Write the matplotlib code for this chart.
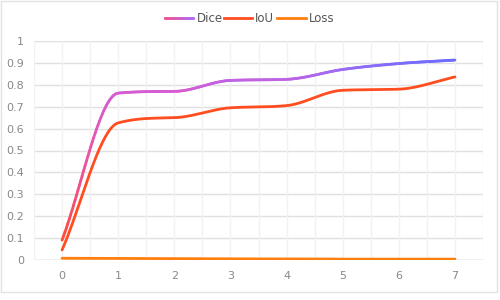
import numpy as np
import matplotlib
matplotlib.use('Agg')
import matplotlib.pyplot as plt
from matplotlib.collections import LineCollection
from matplotlib.colors import LinearSegmentedColormap
from matplotlib.patches import Rectangle
from matplotlib.lines import Line2D

### DATA ###
epochs = [0, 1, 2, 3, 4, 5, 6, 7]
dice = [0.091, 0.762, 0.77, 0.82, 0.825, 0.87, 0.897, 0.913]
iou = [0.046, 0.626, 0.65, 0.695, 0.705, 0.775, 0.78, 0.836]
loss = [0.008, 0.007, 0.006, 0.005, 0.005, 0.004, 0.004, 0.004]
y_ticks = [0, 0.1, 0.2, 0.3, 0.4, 0.5, 0.6, 0.7, 0.8, 0.9, 1]
y_tick_labels = ['0', '0.1', '0.2', '0.3', '0.4', '0.5', '0.6', '0.7', '0.8', '0.9', '1']
series_names = ['Dice', 'IoU', 'Loss']

IOU_COLOR = '#ff4d1f'
LOSS_COLOR = '#ff7f0e'
dice_cmap = LinearSegmentedColormap.from_list('dice', [
    (0.0, '#ff4a35'), (0.3, '#f0508a'), (0.6, '#e457b8'), (0.83, '#d55cd2'),
    (0.89, '#c062e2'), (0.95, '#9b6cf5'), (1.0, '#6e6cff')])


def monotone_path(xs, ys, n=40):
    # monotone cubic (Fritsch-Carlson) drawing of the line
    x = np.array(xs, float)
    y = np.array(ys, float)
    m = len(x)
    d = np.diff(y) / np.diff(x)
    mk = np.zeros(m)
    mk[0] = d[0]
    mk[-1] = d[-1]
    for i in range(1, m - 1):
        mk[i] = 0 if np.sign(d[i - 1]) != np.sign(d[i]) else (d[i - 1] + d[i]) / 2
    for i in range(m - 1):
        if abs(d[i]) < 1e-12:
            mk[i] = mk[i + 1] = 0
            continue
        a = mk[i] / d[i]
        b = mk[i + 1] / d[i]
        sq = a * a + b * b
        if sq <= 9:
            continue
        tau = 3 / np.sqrt(sq)
        mk[i] = a * tau * d[i]
        mk[i + 1] = b * tau * d[i]
    out_x, out_y = [], []
    t = np.linspace(0, 1, n)
    h00 = 2 * t ** 3 - 3 * t ** 2 + 1
    h10 = t ** 3 - 2 * t ** 2 + t
    h01 = -2 * t ** 3 + 3 * t ** 2
    h11 = t ** 3 - t ** 2
    for i in range(m - 1):
        h = x[i + 1] - x[i]
        out_x.extend(x[i] + t * h)
        out_y.extend(h00 * y[i] + h10 * h * mk[i] + h01 * y[i + 1] + h11 * h * mk[i + 1])
    return np.array(out_x), np.array(out_y)


fig = plt.figure(figsize=(5, 3), dpi=100)
fig.patch.set_facecolor('white')
fig.patches.append(Rectangle((1 / 500, 8 / 300), 496 / 500, 291 / 300,
                             transform=fig.transFigure, fill=False,
                             edgecolor='#e2e2e2', linewidth=1))

ax = fig.add_axes([34 / 500, 40 / 300, 449 / 500, 219 / 300])
ax.set_xlim(-0.5, 7.5)
ax.set_ylim(0, 1)

# grid
for yv in y_ticks:
    ax.axhline(yv, color='#e0e0e0', linewidth=1, zorder=0)
for xv in np.arange(-0.5, 7.51, 0.5):
    ax.axvline(xv, color='#f2f2f2', linewidth=1, zorder=0)
ax.axhline(0, color='#d4d4d4', linewidth=1, zorder=1)

for s in ax.spines.values():
    s.set_visible(False)
ax.set_yticks(y_ticks)
ax.set_yticklabels(y_tick_labels)
ax.set_xticks(epochs)
ax.tick_params(length=0, colors='#888888', labelsize=8)
ax.tick_params(axis='y', pad=7)
ax.tick_params(axis='x', pad=8)

# Dice with vertical gradient
dx, dy = monotone_path(epochs, dice)
pts = np.column_stack([dx, dy]).reshape(-1, 1, 2)
segs = np.concatenate([pts[:-1], pts[1:]], axis=1)
mid = (dy[:-1] + dy[1:]) / 2
lc = LineCollection(segs, cmap=dice_cmap, linewidth=2, capstyle='round', zorder=3)
lc.set_array((mid - min(dice)) / (max(dice) - min(dice)))
lc.set_clim(0, 1)
ax.add_collection(lc)

ix, iy = monotone_path(epochs, iou)
ax.plot(ix, iy, color=IOU_COLOR, linewidth=2, zorder=3, solid_capstyle='round')
lx, ly = monotone_path(epochs, loss)
ax.plot(lx, ly, color=LOSS_COLOR, linewidth=2, zorder=3, solid_capstyle='round')

# legend drawn by hand
ly_f = 1 - 18 / 300
gx = np.linspace(165, 193, 30) / 500
gcols = LinearSegmentedColormap.from_list('lg', ['#f0568e', '#b46cf0'])
for k in range(len(gx) - 1):
    fig.add_artist(Line2D([gx[k], gx[k + 1]], [ly_f, ly_f], color=gcols(k / (len(gx) - 2)),
                          linewidth=2, transform=fig.transFigure))
fig.add_artist(Line2D([224 / 500, 252 / 500], [ly_f, ly_f], color=IOU_COLOR,
                      linewidth=2, transform=fig.transFigure))
fig.add_artist(Line2D([277 / 500, 306 / 500], [ly_f, ly_f], color=LOSS_COLOR,
                      linewidth=2, transform=fig.transFigure))
for name, xpx in zip(series_names, [197, 255, 309]):
    fig.text(xpx / 500, ly_f, name, color='#555555', fontsize=8.5, va='center', ha='left')

plt.savefig('out.png', dpi=100)
